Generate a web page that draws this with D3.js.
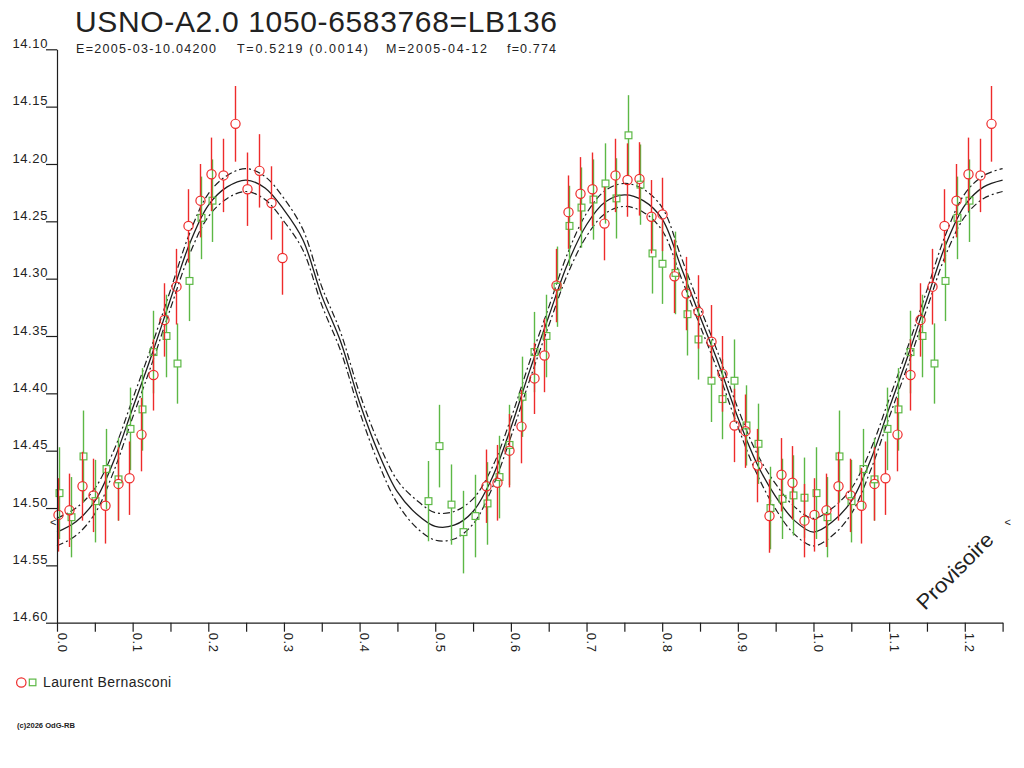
<!DOCTYPE html>
<html>
<head>
<meta charset="utf-8">
<script src="https://cdn.jsdelivr.net/npm/d3@7"></script>
<style>
    body { margin: 0; background: #fff; }
    svg { display: block; }
    text { font-family: "Liberation Sans", Arial, sans-serif; fill: #222; }
</style>
</head>
<body>
<svg id="chart" width="1024" height="768"></svg>
<script>
// ---- data ----
var titleText = "USNO-A2.0 1050-6583768=LB136";
var subtitleParts = ["E=2005-03-10.04200", "T=0.5219 (0.0014)", "M=2005-04-12", "f=0.774"];
var observerName = "Laurent Bernasconi";
var copyrightText = "(c)2026 OdG-RB";

var yTicks = [14.10, 14.15, 14.20, 14.25, 14.30, 14.35, 14.40, 14.45, 14.50, 14.55, 14.60];
var xTicks = [0, 0.05, 0.1, 0.15, 0.2, 0.25, 0.3, 0.35, 0.4, 0.45, 0.5, 0.55, 0.6, 0.65,
              0.7, 0.75, 0.8, 0.85, 0.9, 0.95, 1.0, 1.05, 1.1, 1.15, 1.2, 1.25];
var xTickLabels = [0, 0.1, 0.2, 0.3, 0.4, 0.5, 0.6, 0.7, 0.8, 0.9, 1.0, 1.1, 1.2];

// fitted light curve, one cycle sampled every 0.025 in phase
var modelMag = [14.521, 14.512, 14.494, 14.459, 14.413, 14.367, 14.318, 14.270, 14.236, 14.220,
                14.214, 14.221, 14.240, 14.266, 14.315, 14.355, 14.408, 14.452, 14.486, 14.505,
                14.516, 14.515, 14.503, 14.474, 14.430, 14.380, 14.333, 14.287, 14.253, 14.233,
                14.227, 14.232, 14.248, 14.290, 14.333, 14.375, 14.421, 14.461, 14.490, 14.511,
                14.521];
var modelBand = [0.012, 0.012, 0.011, 0.009, 0.008, 0.008, 0.008, 0.009, 0.010, 0.010,
                 0.010, 0.010, 0.010, 0.009, 0.008, 0.008, 0.008, 0.009, 0.010, 0.012,
                 0.012, 0.012, 0.011, 0.009, 0.008, 0.008, 0.008, 0.009, 0.010, 0.010,
                 0.010, 0.010, 0.010, 0.009, 0.008, 0.008, 0.008, 0.009, 0.011, 0.012,
                 0.012];

// red circles
var redPhase = [0.001, 0.016, 0.033, 0.048, 0.063, 0.080, 0.095, 0.111, 0.127, 0.141,
                0.157, 0.173, 0.189, 0.204, 0.220, 0.235, 0.251, 0.267, 0.283, 0.297,
                0.567, 0.582, 0.598, 0.613, 0.630, 0.644, 0.660, 0.676, 0.691, 0.707,
                0.723, 0.738, 0.754, 0.769, 0.785, 0.800, 0.816, 0.832, 0.848, 0.864,
                0.879, 0.895, 0.910, 0.925, 0.941, 0.957, 0.972, 0.988];
var redMag   = [14.506, 14.502, 14.481, 14.489, 14.498, 14.479, 14.474, 14.436, 14.384, 14.336,
                14.307, 14.254, 14.232, 14.209, 14.210, 14.165, 14.222, 14.206, 14.234, 14.282,
                14.481, 14.478, 14.450, 14.429, 14.387, 14.367, 14.306, 14.242, 14.226, 14.222,
                14.252, 14.210, 14.214, 14.213, 14.246, 14.244, 14.298, 14.313, 14.329, 14.355,
                14.383, 14.428, 14.433, 14.463, 14.507, 14.471, 14.478, 14.511];
var redErr   = [0.032, 0.032, 0.030, 0.032, 0.033, 0.032, 0.032, 0.032, 0.031, 0.032,
                0.033, 0.032, 0.032, 0.032, 0.032, 0.033, 0.032, 0.032, 0.032, 0.032,
                0.032, 0.033, 0.032, 0.032, 0.031, 0.032, 0.032, 0.032, 0.032, 0.032,
                0.032, 0.032, 0.032, 0.032, 0.032, 0.032, 0.032, 0.032, 0.032, 0.032,
                0.033, 0.032, 0.032, 0.032, 0.032, 0.032, 0.032, 0.032];

// green squares
var greenPhase = [0.003, 0.018, 0.034, 0.050, 0.065, 0.080, 0.097, 0.112, 0.127, 0.144,
                  0.159, 0.174, 0.190, 0.205, 0.490, 0.505, 0.521, 0.537, 0.553, 0.568,
                  0.584, 0.598, 0.615, 0.631, 0.646, 0.661, 0.677, 0.693, 0.708, 0.724,
                  0.739, 0.755, 0.771, 0.786, 0.800, 0.817, 0.833, 0.848, 0.864, 0.879,
                  0.895, 0.911, 0.926, 0.942, 0.958, 0.973, 0.988];
var greenMag   = [14.487, 14.508, 14.455, 14.494, 14.466, 14.475, 14.431, 14.414, 14.364, 14.350,
                  14.374, 14.302, 14.247, 14.232, 14.494, 14.446, 14.497, 14.521, 14.507, 14.496,
                  14.473, 14.445, 14.403, 14.364, 14.350, 14.307, 14.254, 14.238, 14.231, 14.217,
                  14.230, 14.175, 14.218, 14.278, 14.287, 14.295, 14.331, 14.353, 14.389, 14.405,
                  14.389, 14.428, 14.444, 14.500, 14.492, 14.489, 14.491];
var greenErr   = [0.040, 0.035, 0.040, 0.036, 0.035, 0.036, 0.036, 0.036, 0.036, 0.036,
                  0.035, 0.035, 0.036, 0.036, 0.035, 0.036, 0.035, 0.036, 0.036, 0.036,
                  0.036, 0.035, 0.035, 0.035, 0.036, 0.035, 0.035, 0.035, 0.035, 0.035,
                  0.035, 0.035, 0.035, 0.035, 0.035, 0.036, 0.036, 0.035, 0.036, 0.035,
                  0.036, 0.035, 0.035, 0.036, 0.035, 0.035, 0.035];

var phaseMax = 1.25;
var redColor = "#ee2b2b";
var greenColor = "#5cb845";
var inkColor = "#1e1e1e";

// ---- setup ----
var svg = d3.select("#chart");

var x = d3.scaleLinear().domain([0, phaseMax]).range([57, 1002.6]);
var y = d3.scaleLinear().domain([14.10, 14.60]).range([49.3, 622.7]);

// phase folding: the first quarter of the cycle is shown again after phase 1
function folded(phases, mags, errs)
{
    var out = [];
    phases.forEach((p, i) => {
        out.push({phase: p, mag: mags[i], err: errs[i]});
        if(p + 1 <= phaseMax)
            out.push({phase: p + 1, mag: mags[i], err: errs[i]});
    });
    return out;
}

var redPts = folded(redPhase, redMag, redErr);
var greenPts = folded(greenPhase, greenMag, greenErr);

var modelPhase = d3.range(modelMag.length).map(i => i / (modelMag.length - 1));
var model = [];
modelPhase.forEach((p, i) => model.push({phase: p, mag: modelMag[i], band: modelBand[i]}));
modelPhase.forEach((p, i) => {
    if(p > 0 && p + 1 <= phaseMax + 1e-9)
        model.push({phase: p + 1, mag: modelMag[i], band: modelBand[i]});
});

// ---- titles ----
svg.append("text").attr("x", 75).attr("y", 32)
    .style("font-size", "30px").style("letter-spacing", "0.65px")
    .text(titleText);

var subX = [76, 237, 386, 507];
var subW = [140, 131, 101, 49];
svg.selectAll(".subtitle").data(subtitleParts).enter().append("text")
    .attr("class", "subtitle")
    .attr("x", (d, i) => subX[i]).attr("y", 53)
    .attr("textLength", (d, i) => subW[i]).attr("lengthAdjust", "spacing")
    .style("font-size", "12.5px")
    .text(d => d);

// ---- model curves ----
var line = (acc) => d3.line()
    .x(d => x(d.phase))
    .y(acc)
    .curve(d3.curveCatmullRom);

var curves = svg.append("g");

curves.append("path").datum(model)
    .attr("d", line(d => y(d.mag - d.band)))
    .attr("fill", "none").attr("stroke", inkColor).attr("stroke-width", 1.2)
    .attr("stroke-dasharray", "7,3,2,3");

curves.append("path").datum(model)
    .attr("d", line(d => y(d.mag + d.band)))
    .attr("fill", "none").attr("stroke", inkColor).attr("stroke-width", 1.2)
    .attr("stroke-dasharray", "7,3,2,3");

curves.append("path").datum(model)
    .attr("d", line(d => y(d.mag)))
    .attr("fill", "none").attr("stroke", inkColor).attr("stroke-width", 1.3);

// small "<" marks at the two ends of the curve
svg.selectAll(".edge").data([0, phaseMax]).enter().append("text")
    .attr("class", "edge")
    .attr("x", d => d == 0 ? x(d) - 7 : x(d) + 2)
    .attr("y", y(modelMag[0]) - 6)
    .style("font-size", "11px")
    .text("<");

// ---- error bars and markers ----
var circleR = 4.6;
var squareS = 6.8;

function drawSeries(data, color, gap)
{
    var g = svg.append("g");

    var bars = g.selectAll(".bar").data(data).enter();

    bars.append("line")
        .attr("x1", d => Math.round(x(d.phase)) + 0.5).attr("x2", d => Math.round(x(d.phase)) + 0.5)
        .attr("y1", d => y(d.mag - d.err)).attr("y2", d => y(d.mag) - gap)
        .attr("stroke", color).attr("stroke-width", 1.4);

    bars.append("line")
        .attr("x1", d => Math.round(x(d.phase)) + 0.5).attr("x2", d => Math.round(x(d.phase)) + 0.5)
        .attr("y1", d => y(d.mag) + gap).attr("y2", d => y(d.mag + d.err))
        .attr("stroke", color).attr("stroke-width", 1.4);

    return g;
}

var greenG = drawSeries(greenPts, greenColor, squareS / 2);
greenG.selectAll("rect").data(greenPts).enter().append("rect")
    .attr("x", d => Math.round(x(d.phase)) + 0.5 - squareS / 2)
    .attr("y", d => y(d.mag) - squareS / 2)
    .attr("width", squareS).attr("height", squareS)
    .attr("fill", "none").attr("stroke", greenColor).attr("stroke-width", 1.2);

var redG = drawSeries(redPts, redColor, circleR);
redG.selectAll("circle").data(redPts).enter().append("circle")
    .attr("cx", d => Math.round(x(d.phase)) + 0.5)
    .attr("cy", d => y(d.mag))
    .attr("r", circleR)
    .attr("fill", "none").attr("stroke", redColor).attr("stroke-width", 1.2);

// ---- axes ----
var yAxis = d3.axisLeft(y)
    .tickValues(yTicks)
    .tickSize(11)
    .tickSizeOuter(0)
    .tickFormat(d3.format(".2f"));

var yG = svg.append("g").attr("transform", "translate(57,0)").call(yAxis);
yG.selectAll("text")
    .attr("x", -9).attr("dy", "-0.15em")
    .style("font-size", "13px").style("letter-spacing", "0.6px")
    .style("font-family", "'Liberation Sans', Arial, sans-serif")
    .attr("fill", "#222");

var xAxis = d3.axisBottom(x)
    .tickValues(xTicks)
    .tickSize(9)
    .tickSizeOuter(0)
    .tickFormat(d => xTickLabels.some(v => Math.abs(v - d) < 1e-9) ? d3.format(".1f")(d) : "");

var xG = svg.append("g").attr("transform", "translate(0,622.7)").call(xAxis);
xG.selectAll("text")
    .attr("transform", "rotate(90)")
    .attr("x", 10).attr("y", 0).attr("dy", 0)
    .style("text-anchor", "start")
    .style("font-size", "13px").style("letter-spacing", "0.6px")
    .style("font-family", "'Liberation Sans', Arial, sans-serif")
    .attr("fill", "#222");

svg.selectAll(".domain, .tick line").attr("stroke", inkColor).attr("stroke-width", 1.2);

// ---- watermark ----
svg.append("text")
    .attr("transform", "translate(925,611) rotate(-45)")
    .attr("textLength", 99).attr("lengthAdjust", "spacingAndGlyphs")
    .style("font-size", "21px")
    .text("Provisoire");

// ---- legend ----
var legend = svg.append("g").attr("transform", "translate(0,682.5)");
legend.append("circle").attr("cx", 21.3).attr("cy", 0).attr("r", 4.7)
    .attr("fill", "none").attr("stroke", redColor).attr("stroke-width", 1.2);
legend.append("rect").attr("x", 29.3).attr("y", -3.4).attr("width", 6.6).attr("height", 6.6)
    .attr("fill", "none").attr("stroke", greenColor).attr("stroke-width", 1.2);
legend.append("text").attr("x", 43).attr("y", 4.5)
    .style("font-size", "14px").style("letter-spacing", "0.4px")
    .text(observerName);

svg.append("text").attr("x", 17).attr("y", 728)
    .attr("textLength", 58).attr("lengthAdjust", "spacingAndGlyphs")
    .style("font-size", "7px").style("font-weight", "bold")
    .text(copyrightText);
</script>
</body>
</html>
